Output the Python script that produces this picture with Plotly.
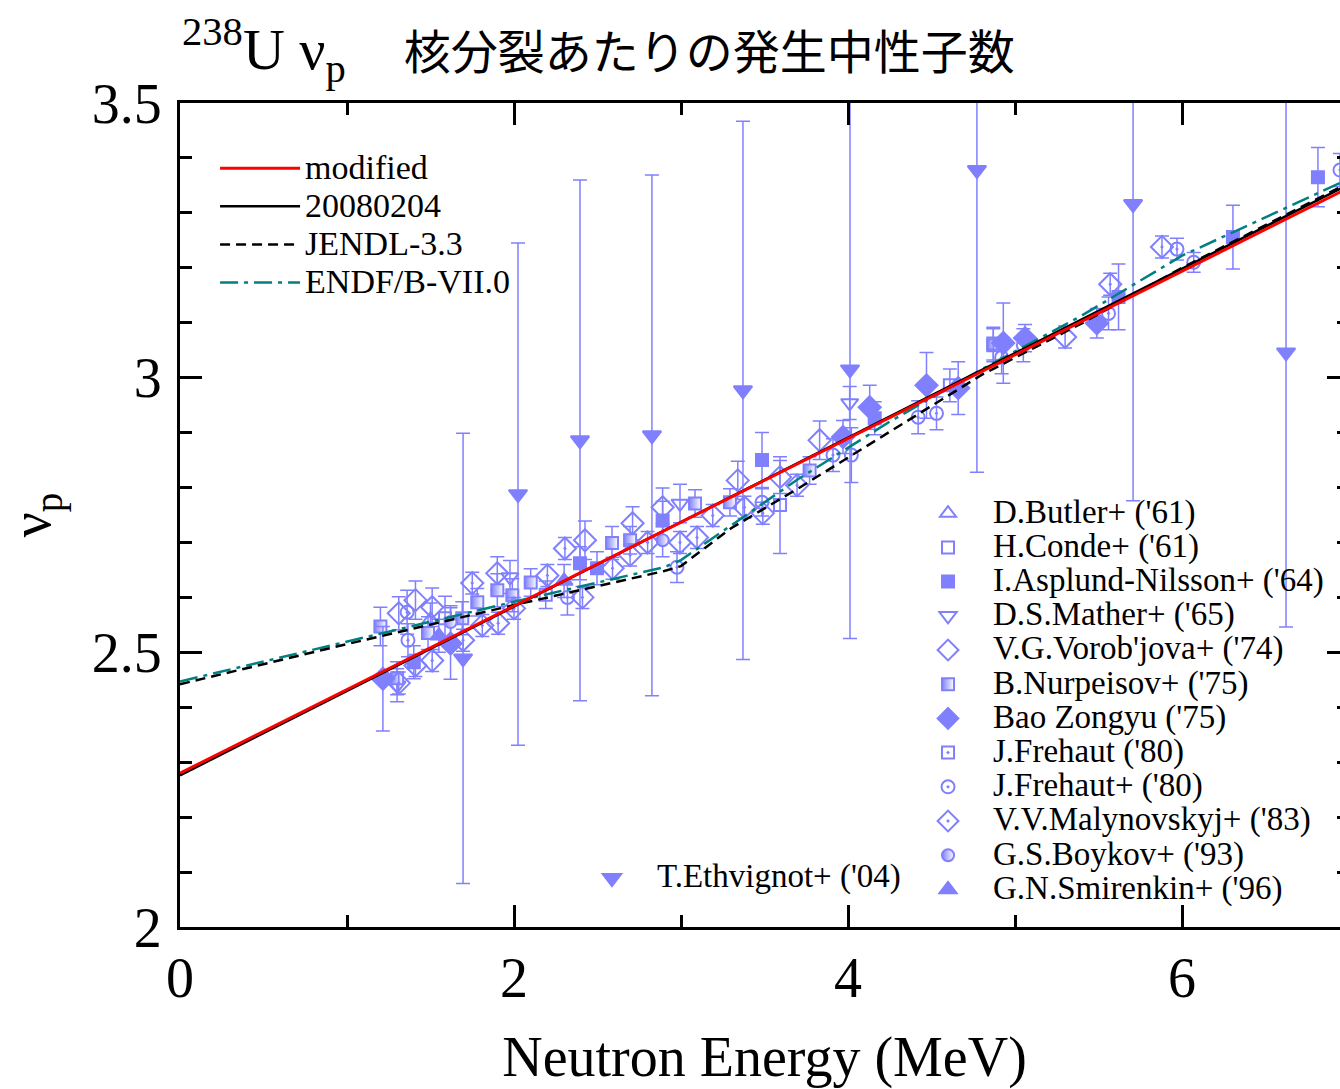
import plotly.graph_objects as go

# ---- evaluated nu_p curves (energy in MeV) ----
e_modified = [0.0, 7.0]
nu_modified = [2.280, 3.346]

e_20080204 = [0.0, 7.0]
nu_20080204 = [2.276, 3.352]

e_jendl33 = [0.0, 1.0, 2.0, 2.5, 2.9, 3.0, 3.3, 3.7, 4.3, 4.8, 5.4, 6.0, 7.0]
nu_jendl33 = [2.442, 2.515, 2.586, 2.620, 2.648, 2.657, 2.726, 2.798, 2.911, 3.005, 3.099, 3.200, 3.355]

e_endfb7 = [0.0, 1.4, 2.0, 2.9, 3.0, 3.7, 4.25, 4.8, 5.4, 6.0, 7.0]
nu_endfb7 = [2.447, 2.548, 2.592, 2.655, 2.668, 2.815, 2.920, 3.015, 3.113, 3.222, 3.362]

# ---- measurements: energy, nu_p, uncertainty ----
butler_e = [1.50]
butler_nu = [2.560]
butler_err = [0.03]

conde_e = [3.593, 4.61]
conde_nu = [2.768, 2.986]
conde_err = [0.088, 0.03]

asplund_e = [1.40, 2.395, 2.497, 2.89, 3.485, 4.16, 5.62, 6.305, 6.814]
asplund_nu = [2.482, 2.662, 2.653, 2.740, 2.850, 2.926, 3.147, 3.256, 3.365]
asplund_err = [0.03, 0.03, 0.03, 0.035, 0.05, 0.03, 0.06, 0.058, 0.054]

mather_e = [1.30, 1.976, 2.994, 4.01]
mather_nu = [2.440, 2.637, 2.771, 2.954]
mather_err = [0.03, 0.03, 0.035, 0.03]

vorobjova_e = [1.31, 1.41, 1.51, 1.90, 2.425, 2.71, 2.89, 3.34, 3.593, 3.83, 5.30]
vorobjova_nu = [2.571, 2.595, 2.582, 2.644, 2.704, 2.735, 2.764, 2.813, 2.819, 2.886, 3.074]
vorobjova_err = [0.03, 0.035, 0.035, 0.03, 0.035, 0.03, 0.035, 0.035, 0.03, 0.035, 0.02]

nurpeisov_e = [1.20, 1.30, 1.485, 1.69, 1.78, 1.90, 1.99, 2.10, 2.587, 2.695, 3.084, 3.293, 3.77, 4.87]
nurpeisov_nu = [2.547, 2.453, 2.535, 2.562, 2.591, 2.613, 2.604, 2.627, 2.699, 2.704, 2.771, 2.773, 2.831, 3.059]
nurpeisov_err = [0.035, 0.03, 0.03, 0.03, 0.025, 0.03, 0.03, 0.025, 0.03, 0.025, 0.025, 0.025, 0.025, 0.03]

bao_e = [1.215, 1.62, 3.97, 4.13, 4.47, 4.66, 4.93, 5.06, 5.49]
bao_nu = [2.452, 2.516, 2.892, 2.946, 2.986, 2.981, 3.063, 3.072, 3.099]
bao_err = [0.095, 0.065, 0.03, 0.04, 0.06, 0.048, 0.073, 0.025, 0.027]

frehaut_e = [1.587, 2.19, 4.87]
frehaut_nu = [2.562, 2.605, 3.062]
frehaut_err = [0.04, 0.025, 0.03]

frehaut2_e = [1.36, 1.365, 2.32, 2.976, 3.485, 3.91, 4.02, 4.42, 4.53, 4.92, 5.05, 5.56, 5.97, 6.07, 6.946]
frehaut2_nu = [2.573, 2.522, 2.600, 2.655, 2.773, 2.859, 2.859, 2.928, 2.935, 3.037, 3.059, 3.117, 3.234, 3.210, 3.378]
frehaut2_err = [0.04, 0.03, 0.032, 0.028, 0.025, 0.03, 0.05, 0.03, 0.03, 0.03, 0.03, 0.03, 0.02, 0.018, 0.03]

malynovskyj_e = [1.31, 1.41, 1.51, 1.695, 1.75, 1.81, 1.905, 2.0, 2.20, 2.305, 2.41, 2.59,
                 2.695, 2.80, 2.994, 3.096, 3.19, 3.38, 3.49, 3.695, 5.57, 5.88]
malynovskyj_nu = [2.444, 2.476, 2.485, 2.522, 2.626, 2.549, 2.553, 2.580, 2.640, 2.689, 2.600, 2.653,
                  2.677, 2.700, 2.700, 2.709, 2.749, 2.764, 2.753, 2.804, 3.170, 3.238]
malynovskyj_err = [0.02] * 22

boykov_e = [1.62, 2.89]
boykov_nu = [2.555, 2.704]
boykov_err = [0.03, 0.03]

smirenkin_e = [1.55, 2.30]
smirenkin_nu = [2.530, 2.630]
smirenkin_err = [0.03, 0.03]

ethvignot_e = [1.695, 2.024, 2.395, 2.826, 3.371, 4.012, 4.772, 5.707, 6.623]
ethvignot_nu = [2.489, 2.788, 2.886, 2.895, 2.977, 3.015, 3.378, 3.316, 3.046]
ethvignot_err = [0.41, 0.457, 0.474, 0.474, 0.49, 0.49, 0.55, 0.54, 0.50]

BLUE = "#8080ff"
SERIF = "Liberation Serif, Times New Roman, serif"


def label(text, size):
    return f'<span style="font-size:{size}px">{text}</span>'


def measured(name, e, nu, err, symbol, size, legend, rank, half=False):
    marker = dict(symbol=symbol, size=size, color=BLUE,
                  line=dict(color=BLUE, width=2))
    if half:
        marker["gradient"] = dict(type="horizontal", color="white")
    return go.Scatter(
        x=e, y=nu, mode="markers", name=label(name, 33),
        marker=marker,
        error_y=dict(type="data", array=err, color=BLUE, thickness=1.5, width=7),
        legend=legend, legendrank=rank,
    )


fig = go.Figure()

fig.add_trace(measured("D.Butler+ ('61)", butler_e, butler_nu, butler_err, "triangle-up-open", 14, "legend2", 1))
fig.add_trace(measured("H.Conde+ ('61)", conde_e, conde_nu, conde_err, "square-open", 12, "legend2", 2))
fig.add_trace(measured("I.Asplund-Nilsson+ ('64)", asplund_e, asplund_nu, asplund_err, "square", 12, "legend2", 3))
fig.add_trace(measured("D.S.Mather+ ('65)", mather_e, mather_nu, mather_err, "triangle-down-open", 15, "legend2", 4))
fig.add_trace(measured("V.G.Vorob'jova+ ('74)", vorobjova_e, vorobjova_nu, vorobjova_err, "diamond-open", 17, "legend2", 5))
fig.add_trace(measured("B.Nurpeisov+ ('75)", nurpeisov_e, nurpeisov_nu, nurpeisov_err, "square", 12, "legend2", 6, half=True))
fig.add_trace(measured("Bao Zongyu ('75)", bao_e, bao_nu, bao_err, "diamond", 17, "legend2", 7))
fig.add_trace(measured("J.Frehaut ('80)", frehaut_e, frehaut_nu, frehaut_err, "square-open-dot", 12, "legend2", 8))
fig.add_trace(measured("J.Frehaut+ ('80)", frehaut2_e, frehaut2_nu, frehaut2_err, "circle-open-dot", 13, "legend2", 9))
fig.add_trace(measured("V.V.Malynovskyj+ ('83)", malynovskyj_e, malynovskyj_nu, malynovskyj_err, "diamond-open-dot", 17, "legend2", 10))
fig.add_trace(measured("G.S.Boykov+ ('93)", boykov_e, boykov_nu, boykov_err, "circle", 12, "legend2", 11, half=True))
fig.add_trace(measured("G.N.Smirenkin+ ('96)", smirenkin_e, smirenkin_nu, smirenkin_err, "triangle-up", 15, "legend2", 12))
fig.add_trace(measured("T.Ethvignot+ ('04)", ethvignot_e, ethvignot_nu, ethvignot_err, "triangle-down", 16, "legend3", 13))

# evaluations, drawn over the data
fig.add_trace(go.Scatter(x=e_endfb7, y=nu_endfb7, mode="lines", name=label("ENDF/B-VII.0", 34),
                         line=dict(color="#008080", width=2.5, dash="18px,6px,4px,6px"),
                         legend="legend", legendrank=4))
fig.add_trace(go.Scatter(x=e_jendl33, y=nu_jendl33, mode="lines", name=label("JENDL-3.3", 34),
                         line=dict(color="black", width=2.5, dash="10px,6px"),
                         legend="legend", legendrank=3))
fig.add_trace(go.Scatter(x=e_20080204, y=nu_20080204, mode="lines", name=label("20080204", 34),
                         line=dict(color="black", width=2.5),
                         legend="legend", legendrank=2))
fig.add_trace(go.Scatter(x=e_modified, y=nu_modified, mode="lines", name=label("modified", 34),
                         line=dict(color="#ff0000", width=3),
                         legend="legend", legendrank=1))

axis_common = dict(
    showline=True, linecolor="black", linewidth=3, mirror="ticks",
    ticks="inside", ticklen=22, tickwidth=2.5, tickcolor="black",
    showgrid=False, zeroline=False, automargin=False,
    tickfont=dict(family=SERIF, size=56, color="black"),
)

fig.update_xaxes(
    range=[0, 7], tick0=0, dtick=2,
    minor=dict(dtick=1, ticks="inside", ticklen=12, tickwidth=2.5, tickcolor="black", showgrid=False),
    ticklabelstandoff=0,
    title=dict(text="Neutron Energy (MeV)", font=dict(family=SERIF, size=56, color="black"), standoff=30),
    **axis_common,
)
fig.update_yaxes(
    range=[2, 3.5], tick0=2, dtick=0.5,
    minor=dict(dtick=0.1, ticks="inside", ticklen=12, tickwidth=2.5, tickcolor="black", showgrid=False),
    ticklabelstandoff=4,
    title=dict(text="ν<sub>p</sub>", font=dict(family=SERIF, size=56, color="black"), standoff=26),
    **axis_common,
)

legend_common = dict(bgcolor="rgba(0,0,0,0)", borderwidth=0, itemwidth=80,
                     xanchor="left", yanchor="top", traceorder="normal",
                     itemclick=False, itemdoubleclick=False)

fig.update_layout(
    width=1360, height=1089,
    margin=dict(l=180, r=11, t=103, b=162),
    paper_bgcolor="white", plot_bgcolor="white",
    font=dict(family=SERIF, color="black"),
    showlegend=True,
    legend=dict(x=0.030, y=0.950, font=dict(family=SERIF, size=27, color="black"), **legend_common),
    legend2=dict(x=0.6185, y=0.529, font=dict(family=SERIF, size=24, color="black"), **legend_common),
    legend3=dict(x=0.331, y=0.0862, font=dict(family=SERIF, size=24, color="black"), **legend_common),
)

title_text = (
    '<span style="font-family:Liberation Serif">'
    '<sup>238</sup>U ν<sub>p</sub></span>'
    '\u00a0\u00a0\u00a0\u00a0'
    '<span style="font-family:Noto Sans CJK JP;font-size:47px">核分裂あたりの発生中性子数</span>'
)
fig.add_annotation(
    text=title_text, xref="paper", yref="paper", x=0.0, y=1.064,
    xanchor="left", yanchor="middle", showarrow=False,
    font=dict(family=SERIF, size=58, color="black"),
)

fig.write_html(
    "out.html",
    post_script="document.body.style.margin='0';"
                "document.body.style.overflow='hidden';"
                "document.documentElement.style.overflow='hidden';",
)
